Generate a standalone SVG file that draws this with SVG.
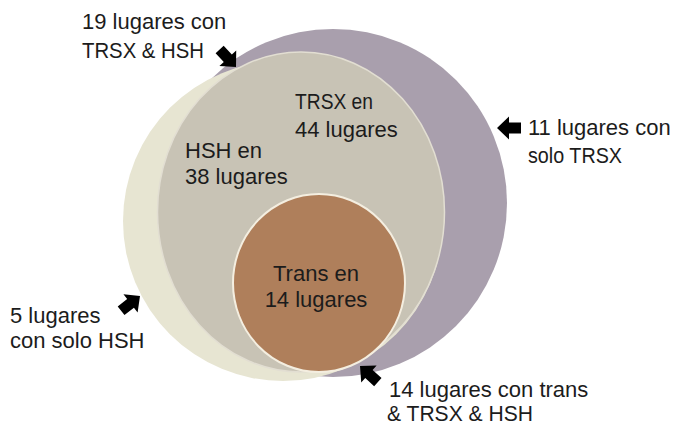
<svg xmlns="http://www.w3.org/2000/svg" width="677" height="425" viewBox="0 0 677 425">
<style>
text{font-family:"Liberation Sans","Noto Sans",Arial,sans-serif;font-size:22px;fill:#1c1c1c}
.arrow{fill:#000}
</style>
<defs>
<path id="arr" d="M0,0 L-12,-11.5 L-12,-5.5 L-24,-5.5 L-24,5.5 L-12,5.5 L-12,11.5 Z"/>
</defs>
<rect width="677" height="425" fill="#ffffff"/>
<g id="trsx">
<circle cx="333" cy="203" r="174" fill="#a99fad"/>
</g>
<g id="hsh">
<circle cx="283" cy="221" r="160" fill="#e7e5d2"/>
</g>
<g id="trsx-hsh">
<ellipse cx="301" cy="212" rx="143.5" ry="160" fill="#c8c3b5" stroke="#e2ded2" stroke-width="1.5"/>
<text x="295" y="109" textLength="78" lengthAdjust="spacingAndGlyphs">TRSX en</text>
<text x="295" y="137">44 lugares</text>
<text x="185" y="158">HSH en</text>
<text x="185" y="184">38 lugares</text>
</g>
<g id="trans">
<ellipse cx="319" cy="283" rx="86" ry="89" fill="#af7f5b" stroke="#f4eee0" stroke-width="2"/>
<text x="316" y="281" text-anchor="middle">Trans en</text>
<text x="316" y="307" text-anchor="middle">14 lugares</text>
</g>
<g id="label-19">
<text x="82" y="29">19 lugares con</text>
<text x="82" y="58" textLength="122" lengthAdjust="spacingAndGlyphs">TRSX &amp; HSH</text>
</g>
<g id="label-11">
<text x="528" y="135">11 lugares con</text>
<text x="528" y="163" textLength="94" lengthAdjust="spacingAndGlyphs">solo TRSX</text>
</g>
<g id="label-5">
<text x="10" y="323">5 lugares</text>
<text x="10" y="348">con solo HSH</text>
</g>
<g id="label-14">
<text x="389" y="397">14 lugares con trans</text>
<text x="387" y="421" textLength="146" lengthAdjust="spacingAndGlyphs">&amp; TRSX &amp; HSH</text>
</g>
<g id="connectors">
<use href="#arr" class="arrow" transform="translate(236,67) rotate(47)"/>
<use href="#arr" class="arrow" transform="translate(497,128) rotate(180)"/>
<use href="#arr" class="arrow" transform="translate(140,296) rotate(-38)"/>
<use href="#arr" class="arrow" transform="translate(360,366) rotate(-138)"/>
</g>
</svg>
